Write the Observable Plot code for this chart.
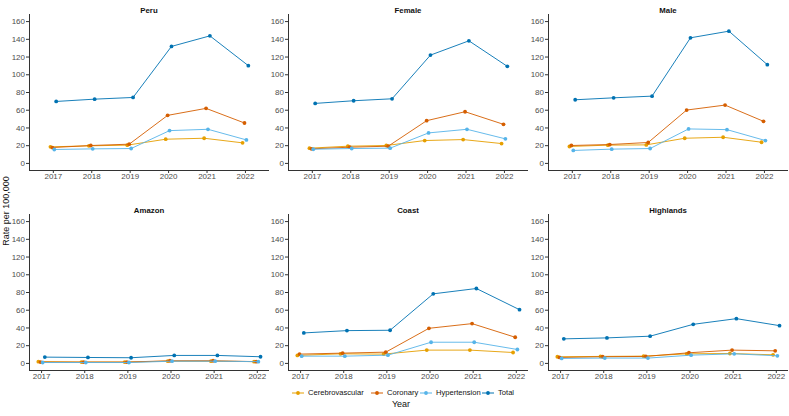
<!DOCTYPE html>
<html>
<head>
<meta charset="utf-8">
<script src="https://cdn.jsdelivr.net/npm/d3@7"></script>
<script src="https://cdn.jsdelivr.net/npm/@observablehq/plot@0.6"></script>
<style>
  html, body { margin: 0; padding: 0; background: #fff; }
  #wrap { position: relative; width: 789px; height: 416px; font-family: "Liberation Sans", Arial, sans-serif; }
  .panel { position: absolute; }
  #overlay { position: absolute; left: 0; top: 0; pointer-events: none; }
</style>
</head>
<body>
<div id="wrap"></div>
<script>
// ---- Data ----
const years = [2017, 2018, 2019, 2020, 2021, 2022];
const series = ["Cerebrovascular", "Coronary", "Hypertension", "Total"];
const seriesColors = ["#E69F00", "#D55E00", "#56B4E9", "#0072B2"];
const yTicks = [0, 20, 40, 60, 80, 100, 120, 140, 160];
const panelTitles = ["Peru", "Female", "Male", "Amazon", "Coast", "Highlands"];

// values per panel, rows in series order: Cerebrovascular, Coronary, Hypertension, Total
const peru = [
  [18.7, 19.8, 20.6, 27.3, 28.4, 23.2],
  [17.9, 20.2, 21.7, 54.2, 62.1, 45.6],
  [15.7, 16.4, 16.8, 37.0, 38.5, 26.5],
  [69.9, 72.5, 74.4, 132.0, 143.9, 110.3]
];
const female = [
  [17.2, 19.4, 20.2, 25.8, 26.9, 22.4],
  [16.4, 18.3, 19.4, 48.2, 58.3, 44.1],
  [16.0, 16.8, 17.2, 34.4, 38.5, 27.7],
  [67.7, 70.7, 72.9, 122.2, 138.3, 109.5]
];
const male = [
  [19.1, 20.6, 20.9, 28.4, 29.5, 23.9],
  [20.2, 21.3, 23.6, 60.2, 65.8, 47.5],
  [14.6, 16.1, 16.8, 38.9, 38.1, 25.8],
  [71.8, 74.0, 75.9, 141.7, 149.2, 111.4]
];
const amazon = [
  [2.0, 1.5, 1.5, 2.5, 2.5, 2.0],
  [1.5, 1.5, 1.5, 3.0, 3.0, 2.0],
  [1.0, 1.0, 1.0, 2.5, 2.5, 2.0],
  [7.1, 6.7, 6.4, 9.0, 9.0, 7.5]
];
const coast = [
  [9.0, 10.8, 10.5, 15.0, 15.0, 12.3],
  [10.5, 11.6, 12.7, 39.6, 44.9, 29.5],
  [8.2, 8.2, 9.3, 23.9, 23.9, 15.7],
  [34.4, 37.0, 37.4, 78.5, 84.5, 60.6]
];
const highlands = [
  [7.5, 7.9, 8.2, 10.8, 11.2, 9.7],
  [6.7, 7.5, 7.9, 12.0, 15.0, 14.2],
  [5.6, 6.0, 6.0, 9.3, 10.8, 8.6],
  [27.7, 28.8, 30.7, 44.1, 50.5, 42.6]
];
const panelValues = [peru, female, male, amazon, coast, highlands];

// ---- Layout ----
const FONT = "'Liberation Sans', Arial, sans-serif";
const dodge = [-0.075, -0.025, 0.025, 0.075];
const wrap = document.getElementById("wrap");

function rowsFor(vals) {
  const out = [];
  series.forEach((s, i) => years.forEach((y, j) => out.push({series: s, si: i, year: y, value: vals[i][j]})));
  return out;
}

panelValues.forEach((vals, p) => {
  const row = Math.floor(p / 3), col = p % 3;
  const data = rowsFor(vals);
  const xDomain = row === 0 ? [2016.38, 2022.6] : [2016.72, 2022.26];
  const marks = [
    Plot.axisY({ticks: yTicks, tickSize: 3, tickPadding: 1.5, label: null, fill: "#4d4d4d", stroke: "#333"}),
    Plot.axisX({ticks: years, tickFormat: d => String(d), tickSize: 3, tickPadding: 0, label: null, fill: "#4d4d4d", stroke: "#333"}),
    Plot.frame({anchor: "left", stroke: "#333", strokeWidth: 1}),
    Plot.frame({anchor: "bottom", stroke: "#333", strokeWidth: 1})
  ];
  series.forEach((s, i) => {
    const d = data.filter(r => r.si === i);
    marks.push(Plot.line(d, {x: r => r.year + dodge[i], y: "value", stroke: seriesColors[i], strokeWidth: 1, strokeOpacity: 0.9}));
    marks.push(Plot.dot(d, {x: r => r.year + dodge[i], y: "value", fill: seriesColors[i], r: 1.9, stroke: "none"}));
  });
  marks.push(Plot.text([panelTitles[p]], {frameAnchor: "top", dy: -7, text: d => d, fontWeight: "bold", fill: "#111", fontSize: 7.8}));
  const chart = Plot.plot({
    width: 270, height: 200,
    marginLeft: 29, marginRight: 2, marginTop: 14, marginBottom: 30,
    x: {domain: xDomain},
    y: {domain: [-8, 168]},
    style: {fontFamily: FONT, fontSize: "8px", background: "transparent", overflow: "visible"},
    marks
  });
  chart.classList.add("panel");
  chart.style.left = [0, 259, 519][col] + "px";
  chart.style.top = (row * 200) + "px";
  wrap.appendChild(chart);
});

// ---- Overlay: y label, legend, x label ----
const svg = d3.select(wrap).append("svg").attr("id", "overlay").attr("width", 789).attr("height", 416)
  .style("font-family", FONT);
svg.append("text").attr("transform", "translate(7,211) rotate(-90)").attr("text-anchor", "middle")
  .attr("dominant-baseline", "middle").attr("font-size", 9).attr("fill", "#111").text("Rate per 100,000");
svg.append("text").attr("x", 401).attr("y", 405).attr("text-anchor", "middle").attr("dominant-baseline", "middle")
  .attr("font-size", 9).attr("fill", "#111").text("Year");

// legend keys
const legendKeyX = [298, 377, 426, 488];
series.forEach((s, i) => {
  const g = svg.append("g").attr("transform", `translate(${legendKeyX[i]},393)`);
  g.append("line").attr("x1", -6).attr("x2", 6).attr("y1", 0).attr("y2", 0).attr("stroke", seriesColors[i]).attr("stroke-width", 1);
  g.append("circle").attr("r", 1.9).attr("fill", seriesColors[i]);
  g.append("text").attr("x", 10).attr("y", 0).attr("dominant-baseline", "middle")
    .attr("font-size", 7.6).attr("fill", "#111").text(s);
});
</script>
</body>
</html>
